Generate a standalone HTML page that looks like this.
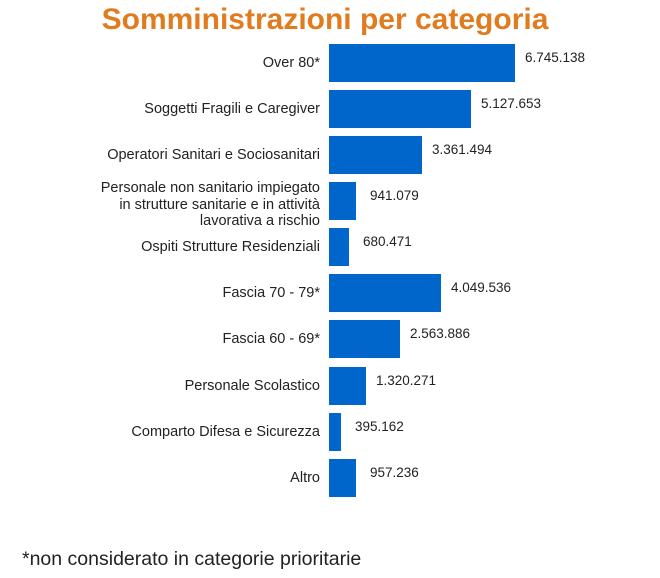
<!DOCTYPE html>
<html><head><meta charset="utf-8"><style>
body{margin:0;width:660px;height:578px;background:#fff;position:relative;overflow:hidden;font-family:"Liberation Sans",sans-serif;}
.t{position:absolute;left:0;width:650px;top:3px;text-align:center;color:#e07b1f;font-weight:bold;font-size:30px;}
.b{position:absolute;left:329px;height:38px;background:#0066cc;}
.c{position:absolute;right:340px;text-align:right;font-size:14.5px;color:#222;line-height:16.5px;}
.v{position:absolute;font-size:13.5px;color:#222;}
.f{position:absolute;left:22px;top:548px;font-size:19.5px;color:#222;}
</style></head><body>
<div class="t">Somministrazioni per categoria</div>

<div class="b" style="top:44px;width:186px"></div><div class="c" style="top:55px">Over 80*</div><div class="v" style="left:525px;top:50px">6.745.138</div>
<div class="b" style="top:90px;width:142px"></div><div class="c" style="top:101px">Soggetti Fragili e Caregiver</div><div class="v" style="left:481px;top:96px">5.127.653</div>
<div class="b" style="top:136px;width:93px"></div><div class="c" style="top:147px">Operatori Sanitari e Sociosanitari</div><div class="v" style="left:432px;top:142px">3.361.494</div>
<div class="b" style="top:182px;width:27px"></div><div class="c" style="top:180px">Personale non sanitario impiegato<br>in strutture sanitarie e in attività<br>lavorativa a rischio</div><div class="v" style="left:370px;top:188px">941.079</div>
<div class="b" style="top:228px;width:20px"></div><div class="c" style="top:239px">Ospiti Strutture Residenziali</div><div class="v" style="left:363px;top:234px">680.471</div>
<div class="b" style="top:274px;width:112px"></div><div class="c" style="top:285px">Fascia 70 - 79*</div><div class="v" style="left:451px;top:280px">4.049.536</div>
<div class="b" style="top:320px;width:71px"></div><div class="c" style="top:331px">Fascia 60 - 69*</div><div class="v" style="left:410px;top:326px">2.563.886</div>
<div class="b" style="top:367px;width:37px"></div><div class="c" style="top:378px">Personale Scolastico</div><div class="v" style="left:376px;top:373px">1.320.271</div>
<div class="b" style="top:413px;width:12px"></div><div class="c" style="top:424px">Comparto Difesa e Sicurezza</div><div class="v" style="left:355px;top:419px">395.162</div>
<div class="b" style="top:459px;width:27px"></div><div class="c" style="top:470px">Altro</div><div class="v" style="left:370px;top:465px">957.236</div>

<div class="f">*non considerato in categorie prioritarie</div>
</body></html>
